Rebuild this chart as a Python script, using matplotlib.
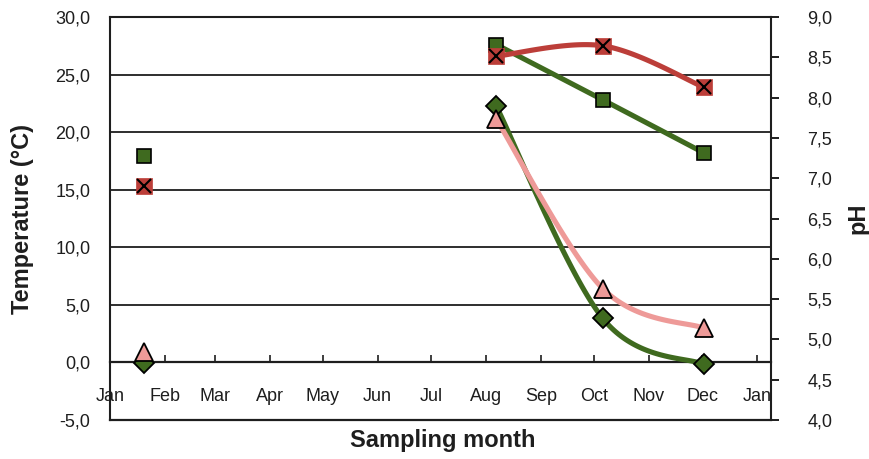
import numpy as np
import matplotlib
matplotlib.use("Agg")
import matplotlib.pyplot as plt
from matplotlib.ticker import FixedLocator, FuncFormatter

plt.rcParams["font.family"] = ["Liberation Sans", "DejaVu Sans"]

# Calendar axis (days since 1 January)
month_labels = ["Jan", "Feb", "Mar", "Apr", "May", "Jun", "Jul",
                "Aug", "Sep", "Oct", "Nov", "Dec", "Jan"]
month_start_days = [0, 31, 59, 90, 120, 151, 181, 212, 243, 273, 304, 334, 365]

# Sampling dates (day of year)
sampling_days = [19, 218, 278, 335]

# Temperatures (°C)
temperature_1 = [17.9, 27.6, 22.8, 18.2]
temperature_2 = [15.3, 26.6, 27.5, 23.9]

# pH
ph_1 = [4.71, 7.89, 5.26, 4.69]
ph_2 = [4.84, 7.73, 5.63, 5.14]

# The first sample stands alone; the later campaign is joined by a line
joined_from = 1

green = "#3F6A1F"
red = "#BC3E39"
pink = "#EE9A98"
ink = "#1E1E1E"


def smooth_curve(x, y, n=50):
    """Cubic Bezier through the points (Catmull-Rom style smoothing)."""
    pts = np.column_stack([x, y]).astype(float)
    P = np.vstack([pts[0], pts, pts[-1]])
    t = np.linspace(0, 1, n)[:, None]
    parts = []
    for i in range(1, len(P) - 2):
        p0, p1, p2, p3 = P[i - 1], P[i], P[i + 1], P[i + 2]
        c1 = p1 + (p2 - p0) / 6.0
        c2 = p2 - (p3 - p1) / 6.0
        seg = ((1 - t) ** 3) * p1 + 3 * ((1 - t) ** 2) * t * c1 \
            + 3 * (1 - t) * t ** 2 * c2 + t ** 3 * p2
        parts.append(seg if i == 1 else seg[1:])
    return np.vstack(parts)


fig = plt.figure(figsize=(8.70, 4.59), dpi=100)
ax = fig.add_axes([110 / 870, 39 / 459, 660.7 / 870, 403 / 459])
ax2 = ax.twinx()

ax.set_xlim(0, 372.7)
ax.set_ylim(-5, 30)
ax2.set_ylim(4.0, 9.0)

# horizontal grid
ax.set_yticks(np.arange(-5, 30.1, 5))
for v in np.arange(5, 30, 5):
    ax.axhline(v, color=ink, lw=1.3, zorder=0.5)
ax.axhline(-5, color=ink, lw=1.6, zorder=0.6, clip_on=False)

# spines
for s in ["left", "top"]:
    ax.spines[s].set_color(ink)
    ax.spines[s].set_linewidth(1.5)
ax.spines["right"].set_visible(False)
ax.spines["bottom"].set_position(("data", 0))
ax.spines["bottom"].set_color(ink)
ax.spines["bottom"].set_linewidth(1.6)
for s in ["left", "top", "bottom"]:
    ax2.spines[s].set_visible(False)
ax2.spines["right"].set_color(ink)
ax2.spines["right"].set_linewidth(1.5)

# month axis on the zero line
ax.xaxis.set_major_locator(FixedLocator(month_start_days))
ax.set_xticklabels(month_labels)
ax.tick_params(axis="x", direction="in", length=5, width=1.2, color=ink,
               pad=18.5, labelsize=13, labelcolor=ink)

comma = FuncFormatter(lambda v, p: f"{v:.1f}".replace(".", ","))
ax.yaxis.set_major_formatter(comma)
ax.tick_params(axis="y", length=0, pad=14, labelsize=13, labelcolor=ink)

ax2.set_yticks(np.arange(4.0, 9.01, 0.5))
ax2.yaxis.set_major_formatter(comma)
ax2.tick_params(axis="y", direction="out", length=6, width=1.4, color=ink,
                pad=20.5, labelsize=13, labelcolor=ink)

# series: lines first, then markers
series = [
    (ax, temperature_1, green),
    (ax, temperature_2, red),
    (ax2, ph_1, green),
    (ax2, ph_2, pink),
]
for target, values, color in series:
    curve = smooth_curve(sampling_days[joined_from:], values[joined_from:])
    target.plot(curve[:, 0], curve[:, 1], color=color, lw=3.7,
                solid_capstyle="butt", zorder=2)

ax.plot(sampling_days, temperature_1, ls="none", marker="s", ms=10.5,
        mfc=green, mec="black", mew=1.2, zorder=3)
ax.plot(sampling_days, temperature_2, ls="none", marker="s", ms=11,
        mfc=red, mec=red, mew=0.5, zorder=3)
ax.plot(sampling_days, temperature_2, ls="none", marker="x", ms=10.5,
        mec="black", mew=1.5, zorder=3.1)
ax2.plot(sampling_days, ph_1, ls="none", marker="D", ms=10.5,
         mfc=green, mec="black", mew=1.3, zorder=3)
ax2.plot(sampling_days, ph_2, ls="none", marker="^", ms=13,
         mfc=pink, mec="black", mew=1.3, zorder=3.1)

ax.set_ylabel("Temperature (°C)", fontsize=17, fontweight="bold", color=ink,
              va="center")
ax.yaxis.set_label_coords(-0.133, 0.5)
ax2.set_ylabel("pH", fontsize=17, fontweight="bold", color=ink, va="center")
ax2.yaxis.set_label_coords(1.132, 0.5)
ax.set_xlabel("Sampling month", fontsize=17, fontweight="bold", color=ink,
              va="center")
ax.xaxis.set_label_coords(0.504, -0.05)

fig.savefig("out.png", dpi=100)
